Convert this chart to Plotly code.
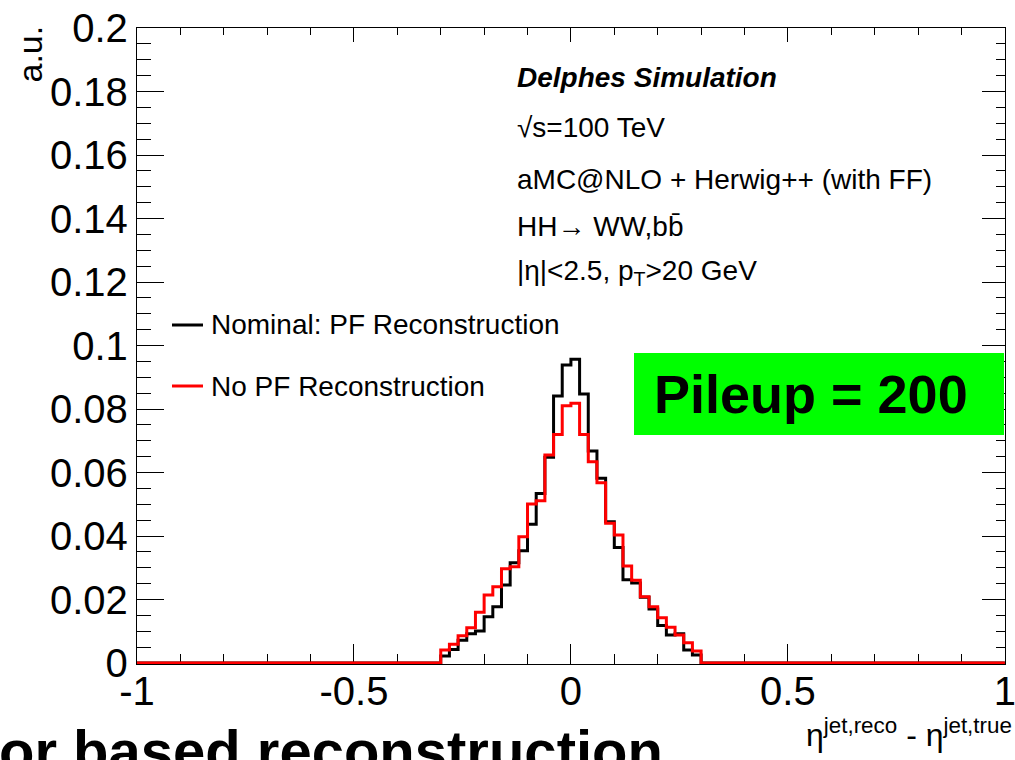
import plotly.graph_objects as go

# ---- data ----
bin_edges = [-0.30, -0.28, -0.26, -0.24, -0.22, -0.20, -0.18, -0.16, -0.14, -0.12,
             -0.10, -0.08, -0.06, -0.04, -0.02, 0.00, 0.02, 0.04, 0.06, 0.08,
             0.10, 0.12, 0.14, 0.16, 0.18, 0.20, 0.22, 0.24, 0.26, 0.28, 0.30]
x_range = [-1.0, 1.0]

nominal_pf = [0.0022, 0.0043, 0.0072, 0.0092, 0.0101, 0.0146, 0.0177, 0.0246, 0.0316, 0.0354,
              0.0437, 0.0534, 0.0648, 0.0841, 0.0939, 0.0957, 0.0847, 0.0668, 0.0582, 0.0445,
              0.0364, 0.0262, 0.0252, 0.0207, 0.0170, 0.0118, 0.0088, 0.0092, 0.0041, 0.0025]
no_pf = [0.0041, 0.0059, 0.0086, 0.0111, 0.0160, 0.0214, 0.0240, 0.0297, 0.0303, 0.0398,
         0.0501, 0.0511, 0.0655, 0.0720, 0.0810, 0.0818, 0.0720, 0.0634, 0.0568, 0.0440,
         0.0403, 0.0306, 0.0261, 0.0209, 0.0177, 0.0143, 0.0113, 0.0088, 0.0064, 0.0038]

x_ticks = [-1, -0.5, 0, 0.5, 1]
x_ticktext = ["-1", "-0.5", "0", "0.5", "1"]
y_ticks = [0, 0.02, 0.04, 0.06, 0.08, 0.1, 0.12, 0.14, 0.16, 0.18, 0.2]
y_ticktext = ["0", "0.02", "0.04", "0.06", "0.08", "0.1", "0.12", "0.14", "0.16", "0.18", "0.2"]

legend_labels = ["Nominal: PF Reconstruction", "No PF Reconstruction"]
info_lines = [
    "<b><i>Delphes Simulation</i></b>",
    "\u221as=100 TeV",
    "aMC@NLO + Herwig++ (with FF)",
    "HH\u2192 WW,bb\u0304",
    "|\u03b7|&lt;2.5, p<sub>T</sub>&gt;20 GeV",
]

FONT = "Liberation Sans, Arial, sans-serif"

# ---- geometry helpers (pixel -> paper) ----
W, H = 1015, 760
L, R, T, B = 137, 10, 28, 96
PW, PH = W - L - R, H - T - B


def px(xp):
    return (xp - L) / PW


def py(yp):
    return (H - B - yp) / PH


def step_xy(vals):
    xs = [x_range[0]] + bin_edges + [x_range[1]]
    ys = [0.0] + list(vals) + [0.0, 0.0]
    return xs, ys


fig = go.Figure()
for vals, col in [(nominal_pf, "#000000"), (no_pf, "#ff0000")]:
    xs, ys = step_xy(vals)
    fig.add_trace(go.Scatter(x=xs, y=ys, mode="lines", line=dict(shape="hv", color=col, width=3),
                             showlegend=False, hoverinfo="skip"))
# dummy trace for mirrored axes
fig.add_trace(go.Scatter(x=[None], y=[None], xaxis="x2", yaxis="y2", showlegend=False))

xr = [-1.0, 1.0004]
yr = [-0.0003, 0.2]
axcommon = dict(showgrid=False, zeroline=False, showline=True, linecolor="black", linewidth=1.3,
                ticks="inside", tickcolor="black", tickwidth=1.3, automargin=False)

fig.update_layout(
    width=W, height=H,
    margin=dict(l=L, r=R, t=T, b=B, pad=0, autoexpand=False),
    paper_bgcolor="white", plot_bgcolor="white",
    font=dict(family=FONT, color="black"),
    xaxis=dict(range=xr, tickvals=x_ticks, ticktext=x_ticktext, ticklen=20,
               tickfont=dict(size=40, family=FONT, color="black"), layer="below traces",
               ticklabelstandoff=-8, ticklabeloverflow="allow",
               minor=dict(dtick=0.1, tick0=0, ticklen=10, ticks="inside", tickcolor="black", tickwidth=1.3),
               **axcommon),
    yaxis=dict(range=yr, tickvals=y_ticks, ticktext=y_ticktext, ticklen=27,
               tickfont=dict(size=40, family=FONT, color="black"), layer="below traces",
               ticklabeloverflow="allow",
               minor=dict(dtick=0.005, tick0=0, ticklen=14, ticks="inside", tickcolor="black", tickwidth=1.3),
               **axcommon),
    xaxis2=dict(range=xr, overlaying="x", side="top", anchor="y", showticklabels=False,
                dtick=0.5, tick0=0, ticklen=14,
                minor=dict(dtick=0.1, tick0=0, ticklen=7, ticks="inside", tickcolor="black", tickwidth=1.3),
                **axcommon),
    yaxis2=dict(range=yr, overlaying="y", side="right", anchor="x", showticklabels=False,
                dtick=0.02, tick0=0, ticklen=23,
                minor=dict(dtick=0.005, tick0=0, ticklen=9, ticks="inside", tickcolor="black", tickwidth=1.3),
                **axcommon),
)

shapes = []
annotations = []

# legend
for i, (lab, col) in enumerate(zip(legend_labels, ["#000000", "#ff0000"])):
    yl = 325 + i * 61
    shapes.append(dict(type="line", xref="paper", yref="paper", x0=px(172), x1=px(203),
                       y0=py(yl), y1=py(yl), line=dict(color=col, width=3)))
    annotations.append(dict(xref="paper", yref="paper", x=px(209), y=py(yl), xanchor="left",
                            yanchor="middle", text=lab, showarrow=False,
                            font=dict(size=28, family=FONT, color="black")))

# info text
for i, t in enumerate(info_lines):
    yl = [78, 128, 180, 226, 272][i]
    annotations.append(dict(xref="paper", yref="paper", x=px(515), y=py(yl), xanchor="left",
                            yanchor="middle", text=t, showarrow=False,
                            font=dict(size=28, family=FONT, color="black")))

# Pileup box
shapes.append(dict(type="rect", xref="paper", yref="paper", x0=px(634), x1=px(1004),
                   y0=py(435), y1=py(353), fillcolor="#00ff00", line=dict(width=0), layer="above"))
annotations.append(dict(xref="paper", yref="paper", x=px(811), y=py(394), xanchor="center",
                        yanchor="middle", text="<b>Pileup = 200</b>", showarrow=False,
                        font=dict(size=54, family=FONT, color="black")))

# y title
annotations.append(dict(xref="paper", yref="paper", x=px(29), y=py(24), xanchor="center",
                        yanchor="top", textangle=-90, text="a.u.", showarrow=False,
                        font=dict(size=34, family=FONT, color="black")))

# x title
annotations.append(dict(xref="paper", yref="paper", x=px(1014), y=py(733), xanchor="right",
                        yanchor="middle",
                        text="\u03b7<sup>jet,reco</sup> - \u03b7<sup>jet,true</sup>",
                        showarrow=False, font=dict(size=32, family=FONT, color="black")))

# cut-off slide text at the bottom
annotations.append(dict(xref="paper", yref="paper", x=px(-3), y=py(716), xanchor="left",
                        yanchor="top", text="<b>or based reconstruction</b>", showarrow=False,
                        font=dict(size=58, family=FONT, color="black")))

fig.update_layout(shapes=shapes, annotations=annotations)
fig.write_html("out.html")
